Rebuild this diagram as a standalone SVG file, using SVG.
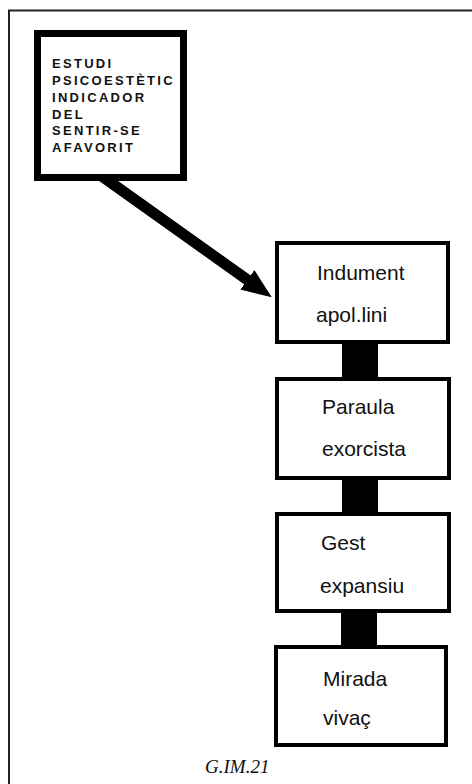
<svg xmlns="http://www.w3.org/2000/svg" width="472" height="784" viewBox="0 0 472 784">
  <style>
    .frame { fill: none; stroke: #222; stroke-width: 2; }
    .head { fill: #fff; stroke: #000; stroke-width: 7; }
    .box { fill: #fff; stroke: #000; stroke-width: 4; }
    .caps { font-family: "Liberation Sans", Arial, sans-serif; font-weight: bold; font-size: 13px; letter-spacing: 2.3px; fill: #111; }
    .lbl { font-family: "Liberation Sans", Arial, sans-serif; font-size: 21px; fill: #111; }
    .cap { font-family: "Liberation Serif", "Times New Roman", serif; font-style: italic; font-size: 19px; fill: #111; }
    .link { stroke: #000; stroke-width: 36; fill: none; }
    .arrow { stroke: #000; stroke-width: 11; fill: none; }
  </style>
  <defs>
    <marker id="ah" markerUnits="userSpaceOnUse" markerWidth="30" markerHeight="24" refX="2" refY="12" orient="auto">
      <path d="M0,0 L30,12 L0,24 Z" fill="#000"/>
    </marker>
  </defs>
  <rect width="472" height="784" fill="#fff"/>
  <path class="frame" d="M9,784 V10.5 H472"/>

  <g id="connectors">
    <path class="arrow" d="M96,172 L249,281" marker-end="url(#ah)"/>
    <line class="link" x1="360" y1="343" x2="360" y2="378"/>
    <line class="link" x1="360" y1="479" x2="360" y2="513"/>
    <line class="link" x1="359" y1="612" x2="359" y2="646"/>
  </g>

  <g id="study">
    <rect class="head" x="37.5" y="33.5" width="146" height="144"/>
    <text class="caps" x="52" y="68">ESTUDI</text>
    <text class="caps" x="52" y="85">PSICOESTÈTIC</text>
    <text class="caps" x="52" y="101.5">INDICADOR</text>
    <text class="caps" x="52" y="118.5">DEL</text>
    <text class="caps" x="52" y="135">SENTIR-SE</text>
    <text class="caps" x="52" y="152">AFAVORIT</text>
  </g>

  <g id="indument">
    <rect class="box" x="277" y="243" width="171" height="99"/>
    <text class="lbl" x="317" y="280">Indument</text>
    <text class="lbl" x="316" y="322">apol.lini</text>
  </g>

  <g id="paraula">
    <rect class="box" x="277" y="379" width="172" height="99"/>
    <text class="lbl" x="322" y="414">Paraula</text>
    <text class="lbl" x="322" y="456">exorcista</text>
  </g>

  <g id="gest">
    <rect class="box" x="277" y="514" width="172" height="97"/>
    <text class="lbl" x="321" y="550">Gest</text>
    <text class="lbl" x="320" y="593">expansiu</text>
  </g>

  <g id="mirada">
    <rect class="box" x="276" y="647" width="170" height="98"/>
    <text class="lbl" x="323" y="686">Mirada</text>
    <text class="lbl" x="323" y="725">vivaç</text>
  </g>

  <text class="cap" x="205" y="773">G.IM.21</text>
</svg>
